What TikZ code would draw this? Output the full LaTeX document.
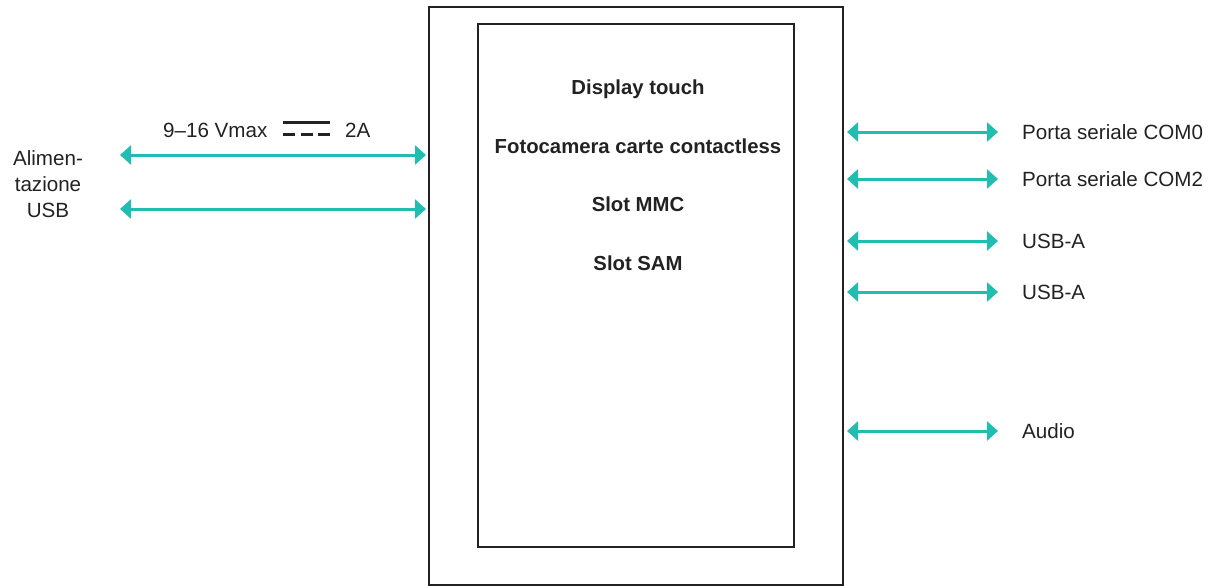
\documentclass[tikz,border=0pt]{standalone}
\usepackage{fontspec}
\setmainfont{Liberation Sans}
\usetikzlibrary{arrows.meta}
\definecolor{teal1}{HTML}{22BDB1}
\definecolor{ink}{HTML}{222222}
\begin{document}
\begin{tikzpicture}[x=1pt,y=-1pt,
  box/.style={draw=ink, line width=2pt, inner sep=0pt},
  lbl/.style={font=\fontsize{20.6}{26}\selectfont, text=ink, inner sep=0pt},
  blbl/.style={font=\fontsize{20.3}{26}\selectfont\bfseries, text=ink, inner sep=0pt},
  arr/.style={teal1, line width=3pt, {Triangle[width=19pt,length=11pt]}-{Triangle[width=19pt,length=11pt]}},
  dcsym/.style={ink, line width=2.7pt}]
\useasboundingbox (0,0) rectangle (1218,586);
% boxes
\node[box, minimum width=414pt, minimum height=578pt] (outer) at (636,296) {};
\node[box, minimum width=316pt, minimum height=523pt] (inner) at (636,285.5) {};
% inner texts
\node[blbl, anchor=base] (t1) at (638,94) {Display touch};
\node[blbl, anchor=base] (t2) at (638,153) {Fotocamera carte contactless};
\node[blbl, anchor=base] (t3) at (638,211) {Slot MMC};
\node[blbl, anchor=base] (t4) at (638,270) {Slot SAM};
% left side
\node[lbl, align=center] (alim) at (48,184) {Alimen-\\tazione\\USB};
\node[lbl, anchor=base west] (volt) at (163,137) {9–16 Vmax};
\node[lbl, anchor=base west] (amp) at (345,137) {2A};
\draw[dcsym] (283,122.5) -- (330,122.5);
\draw[dcsym] (283,134.5) -- (295,134.5) (301,134.5) -- (313,134.5) (318,134.5) -- (330,134.5);
\coordinate (p1) at (120,155);
\coordinate (p2) at (120,209);
\draw[arr] (p1) -- ([xshift=-2pt]p1 -| outer.west);
\draw[arr] (p2) -- ([xshift=-2pt]p2 -| outer.west);
% right side
\node[lbl, anchor=base west] (r1) at (1022,139) {Porta seriale COM0};
\node[lbl, anchor=base west] (r2) at (1022,186) {Porta seriale COM2};
\node[lbl, anchor=base west] (r3) at (1022,248) {USB-A};
\node[lbl, anchor=base west] (r4) at (1022,299) {USB-A};
\node[lbl, anchor=base west] (r5) at (1022,438) {Audio};
\foreach \r in {r1,r2,r3,r4,r5}{
  \path ([xshift=-24pt,yshift=7pt]\r.base west) coordinate (\r a);
  \draw[arr] ([xshift=3pt]\r a -| outer.east) -- (\r a);
}
\end{tikzpicture}
\end{document}
